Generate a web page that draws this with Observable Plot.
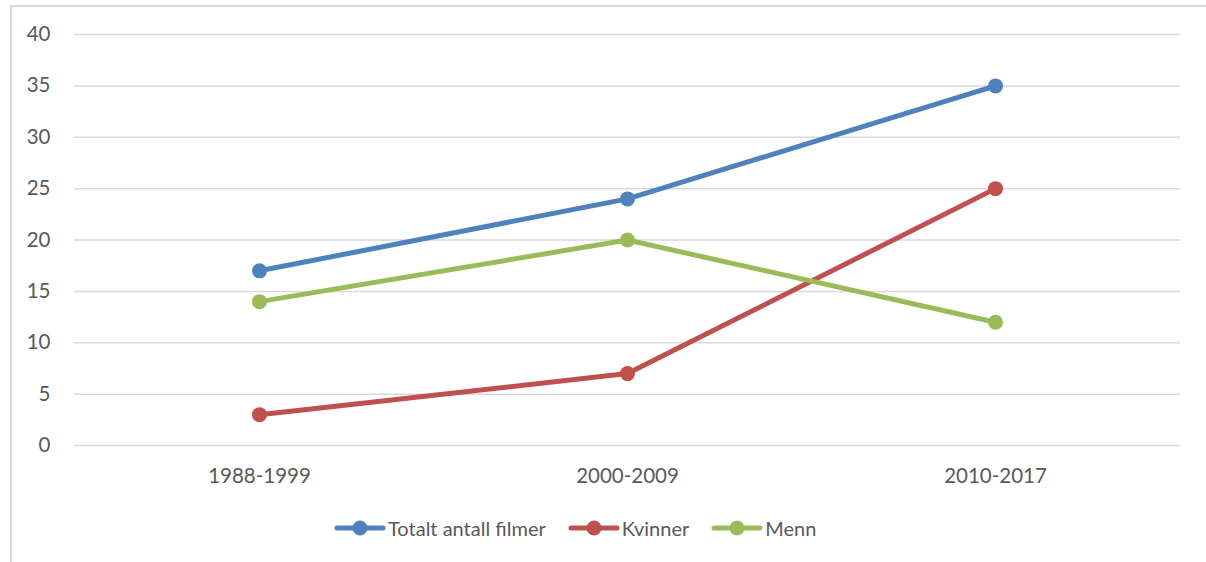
<!DOCTYPE html>
<html>
<head>
<meta charset="utf-8">
<script src="https://cdn.jsdelivr.net/npm/d3@7"></script>
<script src="https://cdn.jsdelivr.net/npm/@observablehq/plot@0.6"></script>
<style>
  html, body { margin: 0; padding: 0; background: #fff; }
  #wrap { position: relative; width: 1206px; height: 562px; overflow: hidden; font-family: Lato, "Open Sans", sans-serif; }
  #frame { position: absolute; left: 10px; top: 5px; width: 1300px; height: 700px; border-left: 2px solid #d9d9d9; border-top: 2px solid #d9d9d9; pointer-events: none; }
  #plot { position: absolute; left: 0; top: 0; }
  #legend { position: absolute; left: 334px; top: 516px; display: flex; align-items: center; color: #595959; font-size: 20px; }
  .item { display: flex; align-items: center; margin-right: 22px; }
  .item svg { display: block; margin-right: 2px; }
</style>
</head>
<body>
<div id="wrap">
  <div id="frame"></div>
  <div id="plot"></div>
  <div id="legend"></div>
</div>
<script>
const categories = ["1988-1999", "2000-2009", "2010-2017"];
const seriesNames = ["Totalt antall filmer", "Kvinner", "Menn"];
const totalt = [17, 24, 35];
const kvinner = [3, 7, 25];
const menn = [14, 20, 12];
const colors = ["#4F81BD", "#C0504D", "#9BBB59"];
const yTicks = [0, 5, 10, 15, 20, 25, 30, 35, 40];

const values = [totalt, kvinner, menn];
const data = [];
seriesNames.forEach((s, i) => categories.forEach((c, j) => data.push({series: s, period: c, value: values[i][j]})));

const chart = Plot.plot({
  width: 1206,
  height: 500,
  marginLeft: 74,
  marginRight: 26,
  marginTop: 34,
  marginBottom: 55,
  style: {fontFamily: "Lato, 'Open Sans', sans-serif", fontSize: "20.5px", color: "#595959", background: "transparent"},
  x: {type: "point", domain: categories, padding: 0.5, label: null, tickSize: 0, tickPadding: 23},
  y: {domain: [0, 40], ticks: yTicks, label: null, tickSize: 0, tickPadding: 24},
  color: {domain: seriesNames, range: colors},
  marks: [
    Plot.ruleY(yTicks, {stroke: "#d9d9d9", strokeWidth: 1.5}),
    Plot.line(data, {x: "period", y: "value", z: "series", stroke: "series", strokeWidth: 5, strokeLinecap: "round", strokeLinejoin: "round"}),
    Plot.dot(data, {x: "period", y: "value", fill: "series", r: 7.5})
  ]
});
chart.querySelectorAll("text").forEach(t => t.setAttribute("fill", "#595959"));
document.getElementById("plot").appendChild(chart);

const legend = d3.select("#legend");
seriesNames.forEach((s, i) => {
  const item = legend.append("div").attr("class", "item");
  const sv = item.append("svg").attr("width", 52).attr("height", 16);
  sv.append("line").attr("x1", 3).attr("x2", 49).attr("y1", 8).attr("y2", 8)
    .attr("stroke", colors[i]).attr("stroke-width", 5).attr("stroke-linecap", "round");
  sv.append("circle").attr("cx", 26).attr("cy", 8).attr("r", 7.5).attr("fill", colors[i]);
  item.append("span").text(s);
});
</script>
</body>
</html>
